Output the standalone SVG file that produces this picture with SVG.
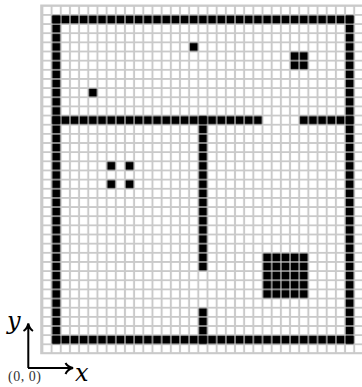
<svg xmlns="http://www.w3.org/2000/svg" width="362" height="387" viewBox="0 0 362 387">
<style>
.ax{fill:none;stroke:#000;stroke-width:2}
.m{font-family:"DejaVu Serif",serif;font-style:italic;fill:#000;font-size:24px}
.l{font-family:"Liberation Serif",serif;fill:#333;font-size:14px;letter-spacing:.5px}
.c{fill:url(#cell)}
</style>
<defs>
<pattern id="gridp" patternUnits="userSpaceOnUse" x="47.015" y="10.325" width="9.17" height="9.15">
<path d="M0 4.575H9.17M4.585 0V9.15" fill="none" stroke="#cacaca" stroke-width="2"/>
</pattern>
<pattern id="cell" patternUnits="userSpaceOnUse" x="51.6" y="14.9" width="9.17" height="9.15">
<rect x="0.6" y="0.6" width="8" height="7.95" fill="#000"/>
</pattern>
</defs>
<g id="grid">
<rect x="41.2" y="5.5" width="321" height="348" fill="#fff"/>
<rect x="42" y="5.75" width="320" height="347.7" fill="url(#gridp)"/>
<path d="M362 5.5H41.2V353.3H362" fill="none" stroke="#cacaca" stroke-width="2"/>
</g>
<g id="walls">
<rect class="c" x="51.6" y="14.9" width="302.61" height="9.15"/>
<rect class="c" x="51.6" y="14.9" width="9.17" height="329.4"/>
<rect class="c" x="345.04" y="14.9" width="9.17" height="329.4"/>
<rect class="c" x="51.6" y="335.15" width="302.61" height="9.15"/>
<rect class="c" x="51.6" y="115.55" width="210.91" height="9.15"/>
<rect class="c" x="299.19" y="115.55" width="55.02" height="9.15"/>
<rect class="c" x="198.32" y="115.55" width="9.17" height="155.55"/>
<rect class="c" x="198.32" y="307.7" width="9.17" height="36.6"/>
</g>
<g id="obstacles">
<rect class="c" x="189.15" y="42.35" width="9.17" height="9.15"/>
<rect class="c" x="88.28" y="88.1" width="9.17" height="9.15"/>
<rect class="c" x="290.02" y="51.5" width="18.34" height="18.3"/>
<rect class="c" x="106.62" y="161.3" width="9.17" height="9.15"/>
<rect class="c" x="124.96" y="161.3" width="9.17" height="9.15"/>
<rect class="c" x="106.62" y="179.6" width="9.17" height="9.15"/>
<rect class="c" x="124.96" y="179.6" width="9.17" height="9.15"/>
<rect class="c" x="262.51" y="252.8" width="45.85" height="45.75"/>
</g>
<g id="axes">
<path class="ax" d="M28.3 368V324M23.5 331Q27 329 28.3 323.5Q29.6 329 33 331"/>
<path class="ax" d="M28 368H72.5M65.5 363Q67.5 366.7 73 368Q67.5 369.3 65.5 374"/>
<text class="m" x="7" y="329">y</text>
<text class="m" x="75" y="381">x</text>
<text class="l" x="8" y="381">(0, 0)</text>
</g>
</svg>
